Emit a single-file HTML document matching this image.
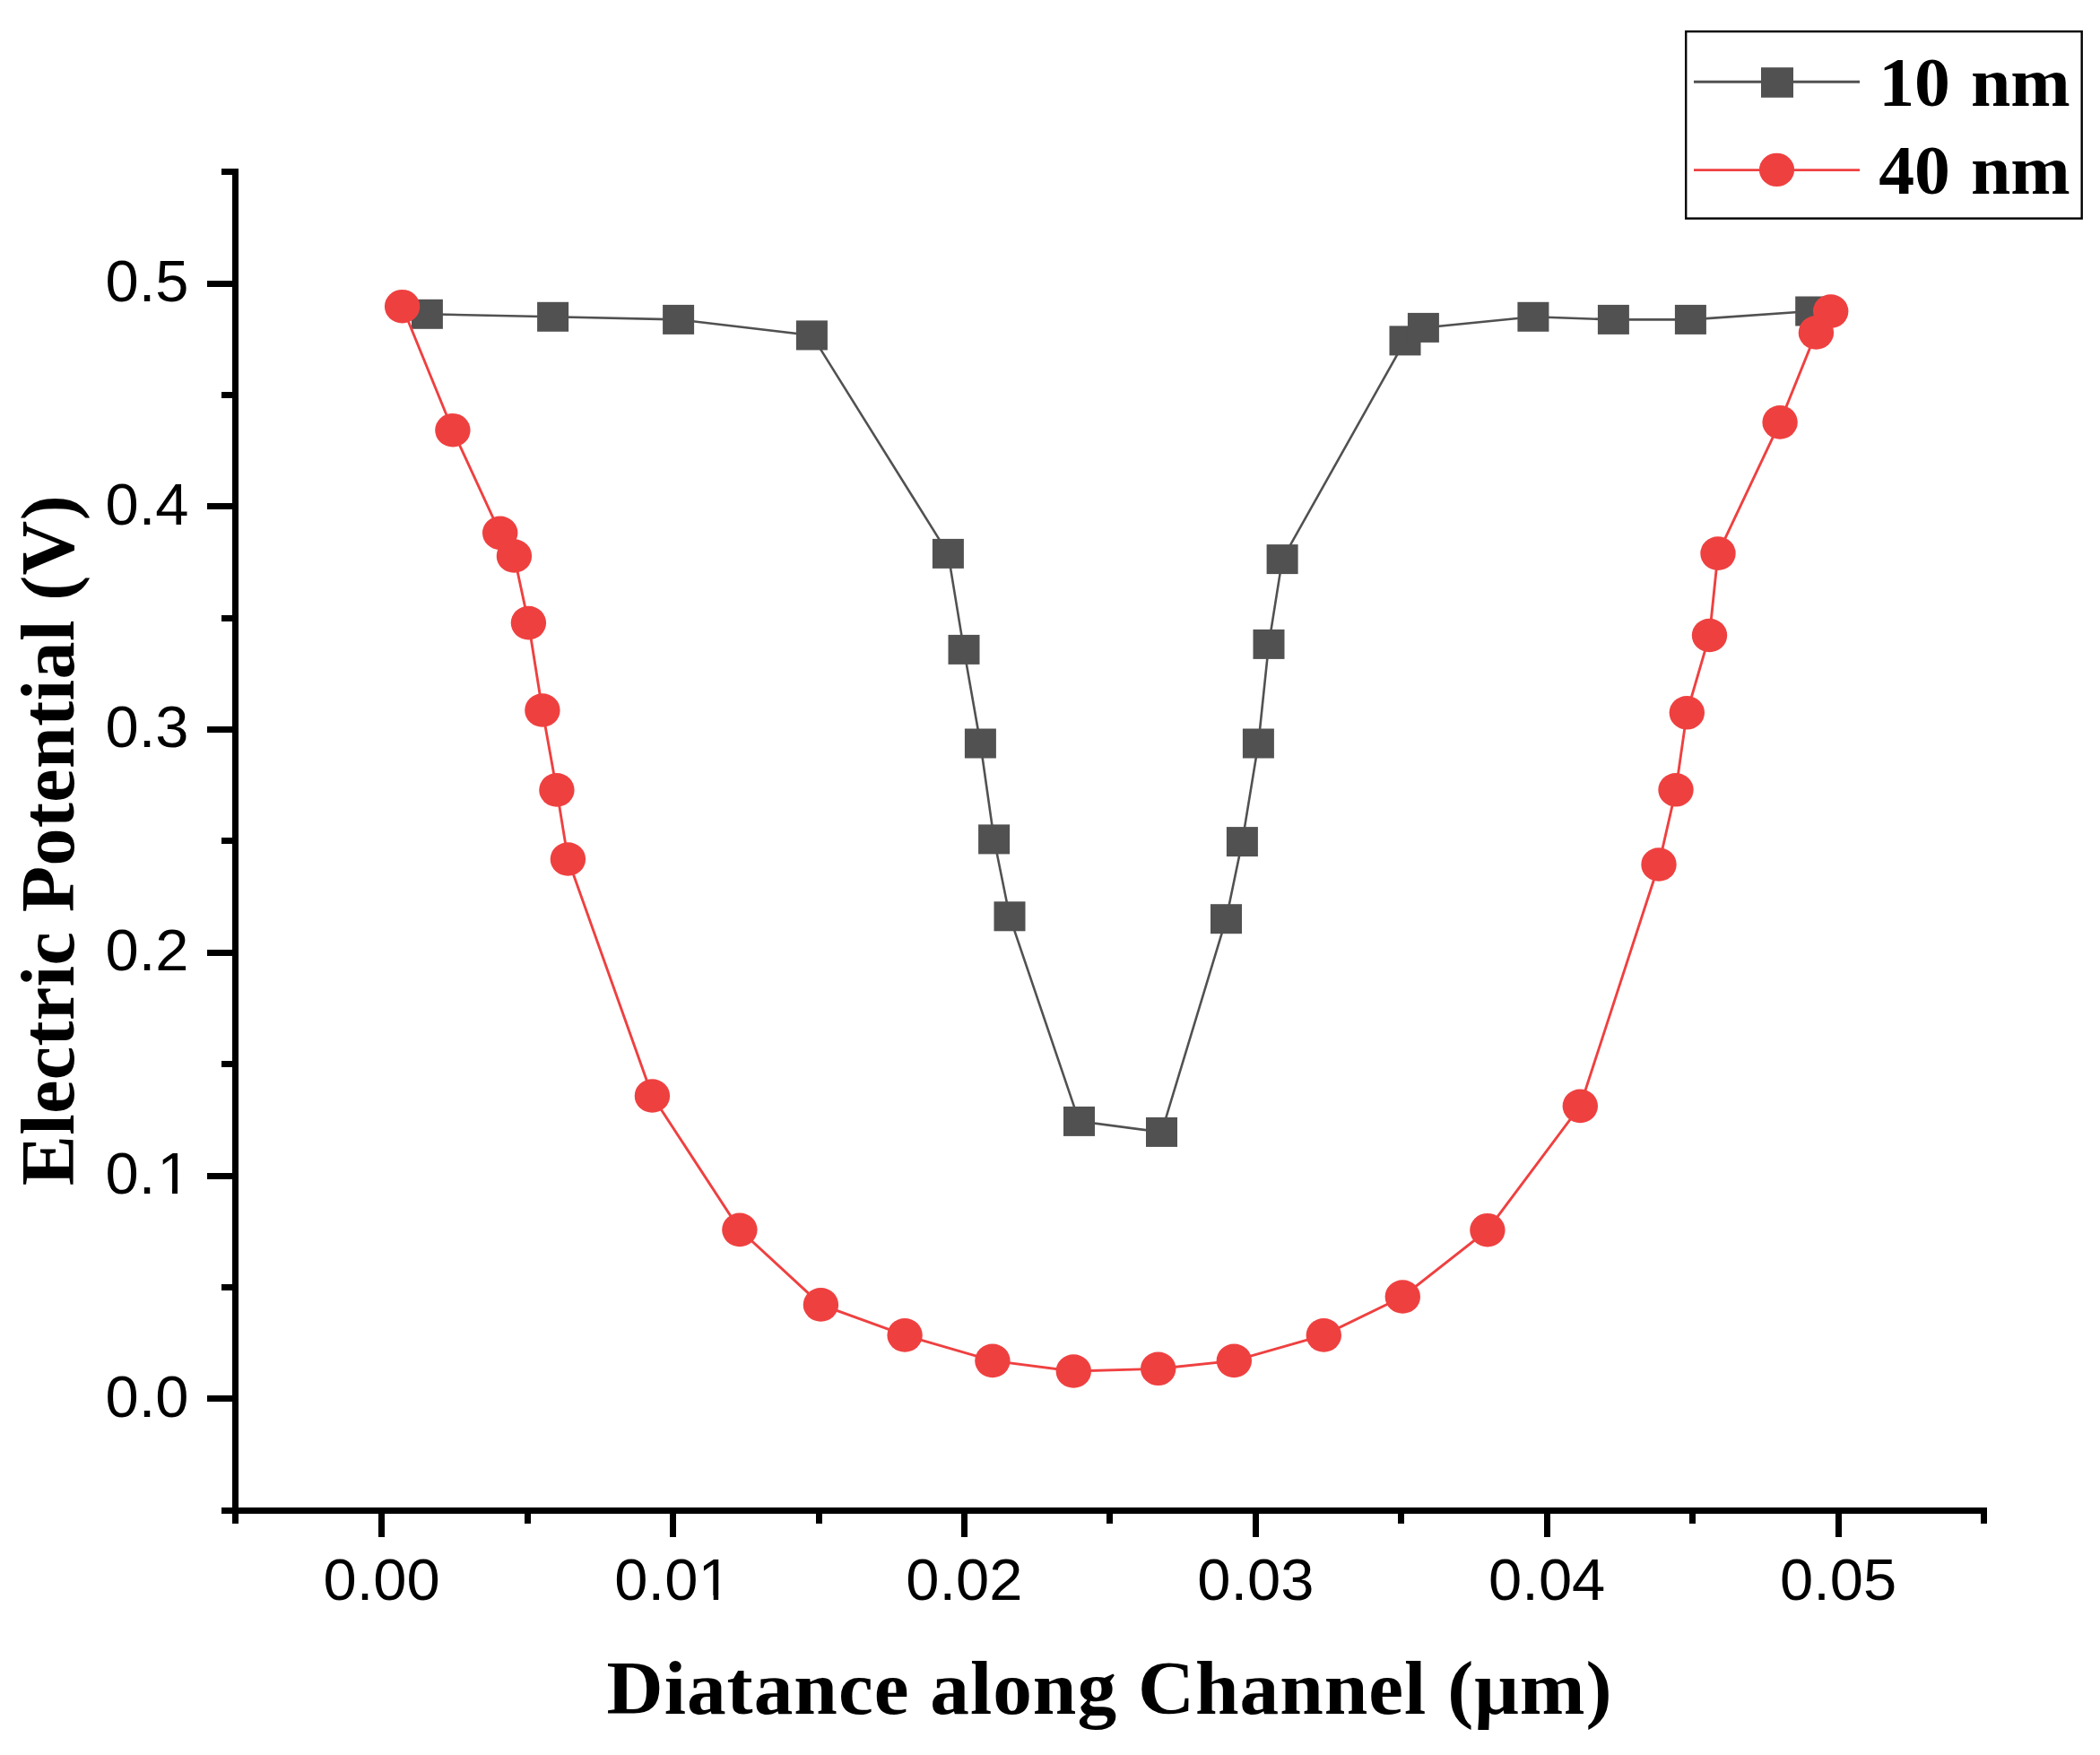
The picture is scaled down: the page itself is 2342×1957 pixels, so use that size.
<!DOCTYPE html>
<html lang="en">
<head>
<meta charset="utf-8">
<title>Electric Potential vs Distance along Channel</title>
<style>
html,body{margin:0;padding:0;background:#fff;}
body{width:2342px;height:1957px;overflow:hidden;}
svg{display:block;}
.tick{font-family:"Liberation Sans", Arial, sans-serif;font-size:64.8px;fill:#000;}
.ttl{font-family:"Liberation Serif", "Times New Roman", serif;font-weight:bold;fill:#000;}
</style>
</head>
<body>
<svg width="2342" height="1957" viewBox="0 0 2342 1957">
<rect x="0" y="0" width="2342" height="1957" fill="#ffffff"/>
<g fill="#000" shape-rendering="crispEdges">
<rect x="259" y="188" width="7" height="1511"/>
<rect x="247" y="1681" width="1968.6" height="7"/>
<rect x="231" y="1556.3" width="30" height="7"/>
<rect x="247" y="1431.9" width="14" height="7"/>
<rect x="231" y="1307.5" width="30" height="7"/>
<rect x="247" y="1183.2" width="14" height="7"/>
<rect x="231" y="1058.8" width="30" height="7"/>
<rect x="247" y="934.4" width="14" height="7"/>
<rect x="231" y="810.0" width="30" height="7"/>
<rect x="247" y="685.6" width="14" height="7"/>
<rect x="231" y="561.3" width="30" height="7"/>
<rect x="247" y="436.9" width="14" height="7"/>
<rect x="231" y="312.5" width="30" height="7"/>
<rect x="247" y="188.1" width="14" height="7"/>
<rect x="422.1" y="1686" width="7" height="28"/>
<rect x="584.5" y="1686" width="7" height="13"/>
<rect x="747.0" y="1686" width="7" height="28"/>
<rect x="909.5" y="1686" width="7" height="13"/>
<rect x="1071.9" y="1686" width="7" height="28"/>
<rect x="1234.3" y="1686" width="7" height="13"/>
<rect x="1396.8" y="1686" width="7" height="28"/>
<rect x="1559.2" y="1686" width="7" height="13"/>
<rect x="1721.7" y="1686" width="7" height="28"/>
<rect x="1884.2" y="1686" width="7" height="13"/>
<rect x="2046.6" y="1686" width="7" height="28"/>
<rect x="2209.0" y="1686" width="7" height="13"/>
</g>
<g class="tick" text-anchor="end">
<text transform="translate(210.5 1579.7) scale(1.033 1)">0.0</text>
<text transform="translate(212.5 1330.9) scale(1.033 1)">0.<tspan dx="1.9">1</tspan></text>
<text transform="translate(210.5 1082.2) scale(1.033 1)">0.2</text>
<text transform="translate(210.5 833.4) scale(1.033 1)">0.3</text>
<text transform="translate(210.5 584.7) scale(1.033 1)">0.4</text>
<text transform="translate(210.5 335.9) scale(1.033 1)">0.5</text>
</g>
<g class="tick" text-anchor="middle">
<text transform="translate(425.6 1784.2) scale(1.033 1)">0.00</text>
<text transform="translate(750.5 1784.2) scale(1.033 1)">0.01</text>
<text transform="translate(1075.4 1784.2) scale(1.033 1)">0.02</text>
<text transform="translate(1400.3 1784.2) scale(1.033 1)">0.03</text>
<text transform="translate(1725.2 1784.2) scale(1.033 1)">0.04</text>
<text transform="translate(2050.1 1784.2) scale(1.033 1)">0.05</text>
</g>
<g fill="#fff">
<rect x="178.5" y="1325.4" width="13.5" height="6.4"/>
<rect x="198" y="1325.4" width="12.5" height="6.4"/>
<rect x="781.5" y="1779.0" width="14.2" height="6.4"/>
<rect x="801.2" y="1779.0" width="13.3" height="6.4"/>
</g>
<text class="ttl" font-size="84" text-anchor="middle" letter-spacing="0.95" transform="translate(1237.6 1910.9) scale(1.04 1)">Diatance along Channel (μm)</text>
<text class="ttl" font-size="84" text-anchor="middle" letter-spacing="0.45" transform="translate(82.0 937.0) rotate(-90)">Electric Potential (V)</text>
<polyline fill="none" stroke="#515151" stroke-width="2.6" points="476.4,350.3 616.6,353.3 756.6,356.4 905.4,373.9 1057.4,617.4 1075.0,724.4 1093.4,829.0 1108.6,935.9 1126.0,1021.8 1203.5,1250.4 1295.5,1262.4 1367.5,1024.7 1385.4,938.6 1403.4,829.0 1415.0,718.4 1430.1,623.6 1567.0,379.9 1587.4,365.4 1709.9,353.3 1799.4,356.4 1885.4,356.4 2019.7,347.0"/>
<g fill="#515151">
<rect x="458.9" y="333.8" width="35" height="33"/>
<rect x="599.1" y="336.8" width="35" height="33"/>
<rect x="739.1" y="339.9" width="35" height="33"/>
<rect x="887.9" y="357.4" width="35" height="33"/>
<rect x="1039.9" y="600.9" width="35" height="33"/>
<rect x="1057.5" y="707.9" width="35" height="33"/>
<rect x="1075.9" y="812.5" width="35" height="33"/>
<rect x="1091.1" y="919.4" width="35" height="33"/>
<rect x="1108.5" y="1005.3" width="35" height="33"/>
<rect x="1186.0" y="1233.9" width="35" height="33"/>
<rect x="1278.0" y="1245.9" width="35" height="33"/>
<rect x="1350.0" y="1008.2" width="35" height="33"/>
<rect x="1367.9" y="922.1" width="35" height="33"/>
<rect x="1385.9" y="812.5" width="35" height="33"/>
<rect x="1397.5" y="701.9" width="35" height="33"/>
<rect x="1412.6" y="607.1" width="35" height="33"/>
<rect x="1549.5" y="363.4" width="35" height="33"/>
<rect x="1569.9" y="348.9" width="35" height="33"/>
<rect x="1692.4" y="336.8" width="35" height="33"/>
<rect x="1781.9" y="339.9" width="35" height="33"/>
<rect x="1867.9" y="339.9" width="35" height="33"/>
<rect x="2002.2" y="330.5" width="35" height="33"/>
</g>
<polyline fill="none" stroke="#EF4040" stroke-width="2.9" points="448.6,341.7 504.9,479.7 557.7,594.3 573.4,620.0 589.4,694.6 604.9,792.0 620.9,880.9 633.4,958.0 727.4,1222.0 824.9,1371.4 915.4,1454.9 1009.1,1488.9 1106.9,1517.4 1197.3,1529.0 1291.7,1526.3 1376.3,1517.4 1476.3,1488.9 1564.3,1446.0 1658.9,1371.7 1762.3,1233.4 1850.0,964.0 1869.0,880.8 1881.3,794.8 1906.5,708.5 1916.0,617.1 1985.1,470.9 2025.4,370.9 2041.7,347.1"/>
<g fill="#EF4040">
<ellipse cx="448.6" cy="341.7" rx="19.7" ry="18.8"/>
<ellipse cx="504.9" cy="479.7" rx="19.7" ry="18.8"/>
<ellipse cx="557.7" cy="594.3" rx="19.7" ry="18.8"/>
<ellipse cx="573.4" cy="620.0" rx="19.7" ry="18.8"/>
<ellipse cx="589.4" cy="694.6" rx="19.7" ry="18.8"/>
<ellipse cx="604.9" cy="792.0" rx="19.7" ry="18.8"/>
<ellipse cx="620.9" cy="880.9" rx="19.7" ry="18.8"/>
<ellipse cx="633.4" cy="958.0" rx="19.7" ry="18.8"/>
<ellipse cx="727.4" cy="1222.0" rx="19.7" ry="18.8"/>
<ellipse cx="824.9" cy="1371.4" rx="19.7" ry="18.8"/>
<ellipse cx="915.4" cy="1454.9" rx="19.7" ry="18.8"/>
<ellipse cx="1009.1" cy="1488.9" rx="19.7" ry="18.8"/>
<ellipse cx="1106.9" cy="1517.4" rx="19.7" ry="18.8"/>
<ellipse cx="1197.3" cy="1529.0" rx="19.7" ry="18.8"/>
<ellipse cx="1291.7" cy="1526.3" rx="19.7" ry="18.8"/>
<ellipse cx="1376.3" cy="1517.4" rx="19.7" ry="18.8"/>
<ellipse cx="1476.3" cy="1488.9" rx="19.7" ry="18.8"/>
<ellipse cx="1564.3" cy="1446.0" rx="19.7" ry="18.8"/>
<ellipse cx="1658.9" cy="1371.7" rx="19.7" ry="18.8"/>
<ellipse cx="1762.3" cy="1233.4" rx="19.7" ry="18.8"/>
<ellipse cx="1850.0" cy="964.0" rx="19.7" ry="18.8"/>
<ellipse cx="1869.0" cy="880.8" rx="19.7" ry="18.8"/>
<ellipse cx="1881.3" cy="794.8" rx="19.7" ry="18.8"/>
<ellipse cx="1906.5" cy="708.5" rx="19.7" ry="18.8"/>
<ellipse cx="1916.0" cy="617.1" rx="19.7" ry="18.8"/>
<ellipse cx="1985.1" cy="470.9" rx="19.7" ry="18.8"/>
<ellipse cx="2025.4" cy="370.9" rx="19.7" ry="18.8"/>
<ellipse cx="2041.7" cy="347.1" rx="19.7" ry="18.8"/>
</g>
<rect x="1880.2" y="35.1" width="441.5" height="208.5" fill="#fff" stroke="#000" stroke-width="2.4"/>
<line x1="1889" y1="91.3" x2="2074" y2="91.3" stroke="#515151" stroke-width="2.9"/>
<rect x="1964" y="75.2" width="36" height="33.6" fill="#515151"/>
<line x1="1889" y1="189.6" x2="2074" y2="189.6" stroke="#EF4040" stroke-width="2.9"/>
<ellipse cx="1981.5" cy="189.4" rx="19.6" ry="18.7" fill="#EF4040"/>
<text class="ttl" font-size="77.3" word-spacing="3" transform="translate(2095.2 118.3) scale(1.032 1)">10 nm</text>
<text class="ttl" font-size="77.3" word-spacing="3" transform="translate(2095.2 216.4) scale(1.032 1)">40 nm</text>
</svg>
</body>
</html>
